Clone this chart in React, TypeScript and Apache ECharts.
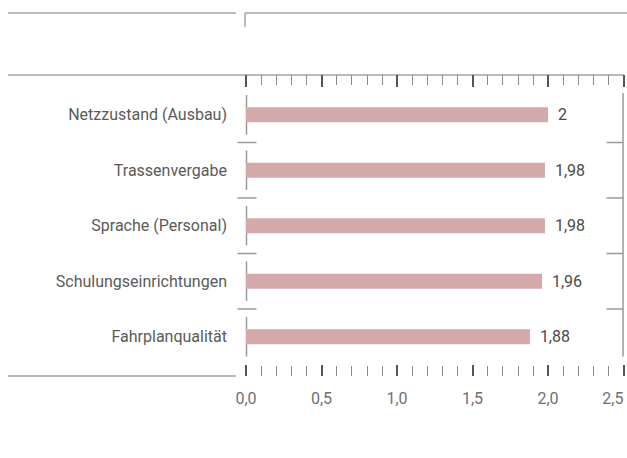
import React, { useEffect, useRef } from "react";
import * as echarts from "echarts";

const categories = [
  "Netzzustand (Ausbau)",
  "Trassenvergabe",
  "Sprache (Personal)",
  "Schulungseinrichtungen",
  "Fahrplanqualität",
];
const values = [2, 1.98, 1.98, 1.96, 1.88];
const axisMin = 0;
const axisMax = 2.5;
const axisInterval = 0.5;

const FONT = "Roboto";
const LINE = "#a3a3a3";

export default function App() {
  const ref = useRef<HTMLDivElement>(null);
  useEffect(() => {
    if (!ref.current) return;
    const chart = echarts.init(ref.current, undefined, { renderer: "svg" });
    const n = categories.length;
    const fmt = (v: number) => String(v).replace(".", ",");
    chart.setOption({
      animation: false,
      grid: { left: 246, right: 3.5, top: 87, bottom: 93.5, containLabel: false },
      xAxis: [
        {
          type: "value",
          position: "top",
          offset: 12,
          min: axisMin,
          max: axisMax,
          interval: axisInterval,
          axisLine: { show: true, lineStyle: { color: LINE, width: 1.5 } },
          axisTick: { show: true, inside: true, length: 12, lineStyle: { color: "#555", width: 2 } },
          minorTick: { show: true, splitNumber: 5, length: 10, lineStyle: { color: "#8a8a8a", width: 1 } },
          axisLabel: { show: false },
          splitLine: { show: false },
        },
        {
          type: "value",
          position: "bottom",
          offset: 11.5,
          min: axisMin,
          max: axisMax,
          interval: axisInterval,
          axisLine: { show: false },
          axisTick: { show: true, inside: true, length: 11, lineStyle: { color: "#555", width: 2 } },
          minorTick: { show: true, splitNumber: 5, length: 10, lineStyle: { color: "#8a8a8a", width: 1 } },
          axisLabel: {
            show: true,
            margin: 14,
            fontFamily: FONT,
            fontSize: 16,
            color: "#707070",
            alignMaxLabel: "right",
            formatter: (v: number) => v.toFixed(1).replace(".", ","),
          },
          splitLine: { show: false },
        },
      ],
      yAxis: {
        type: "category",
        data: categories,
        inverse: true,
        axisLine: { show: false },
        axisTick: { show: false },
        axisLabel: { margin: 19, fontFamily: FONT, fontSize: 16, color: "#5a5a5a" },
      },
      series: [
        {
          type: "bar",
          xAxisIndex: 0,
          data: values,
          barWidth: 15,
          itemStyle: { color: "#d3a9a9" },
          label: {
            show: true,
            position: "right",
            distance: 10,
            fontFamily: FONT,
            fontSize: 16,
            color: "#4a4a4a",
            formatter: (p: any) => fmt(p.value),
          },
        },
        {
          type: "custom",
          xAxisIndex: 0,
          silent: true,
          data: categories.map((_, i) => [0, i]),
          renderItem: (params: any, api: any) => {
            const i = api.value(1);
            const p = api.coord([0, i]);
            const band = api.size([0, 1])[1];
            const cs = params.coordSys;
            const xr = cs.x + cs.width;
            const x0 = p[0] + 0.5;
            const half = band / 2;
            const style = { stroke: "#999", lineWidth: 1.5 };
            const children: any[] = [
              { type: "line", shape: { x1: x0, y1: p[1] - half + 8, x2: x0, y2: p[1] + half - 8 }, style },
              {
                type: "line",
                shape: {
                  x1: xr - 0.5,
                  y1: i === 0 ? p[1] - half + 6 : p[1] - half,
                  x2: xr - 0.5,
                  y2: i === n - 1 ? p[1] + half - 8 : p[1] + half,
                },
                style,
              },
            ];
            if (i < n - 1) {
              const yb = p[1] + half;
              children.push({ type: "line", shape: { x1: x0 - 9, y1: yb, x2: x0 + 10, y2: yb }, style });
              children.push({ type: "line", shape: { x1: xr - 17, y1: yb, x2: xr, y2: yb }, style });
            }
            return { type: "group", children };
          },
        },
      ],
      graphic: [
        { type: "line", shape: { x1: 8, y1: 13, x2: 236, y2: 13 }, style: { stroke: LINE, lineWidth: 1.5 } },
        { type: "line", shape: { x1: 245, y1: 13, x2: 627, y2: 13 }, style: { stroke: LINE, lineWidth: 1.5 } },
        { type: "line", shape: { x1: 245, y1: 13, x2: 245, y2: 27 }, style: { stroke: LINE, lineWidth: 1.5 } },
        { type: "line", shape: { x1: 8, y1: 75, x2: 246, y2: 75 }, style: { stroke: LINE, lineWidth: 1.5 } },
        { type: "line", shape: { x1: 8, y1: 376, x2: 236, y2: 376 }, style: { stroke: LINE, lineWidth: 1.5 } },
      ],
    });
    return () => chart.dispose();
  }, []);
  return <div ref={ref} style={{ width: 627, height: 458, position: "absolute", left: 0, top: 0 }} />;
}
